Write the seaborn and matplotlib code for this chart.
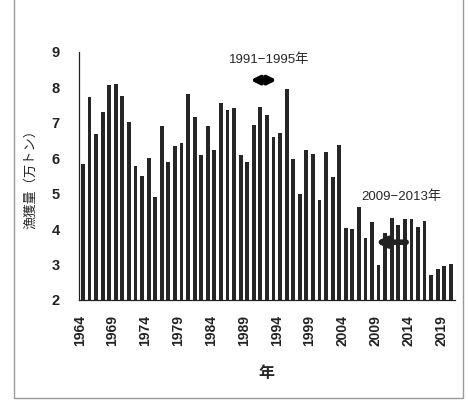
import matplotlib
matplotlib.use('Agg')
import matplotlib.pyplot as plt
import seaborn as sns
from matplotlib.patches import Rectangle

# 年ごとの漁獲量（万トン）
years = list(range(1964, 2021))
catch = [
    5.84, 7.72, 6.69, 7.30, 8.06, 8.08, 7.76, 7.01, 5.77, 5.51,
    6.01, 4.91, 6.92, 5.89, 6.33, 6.44, 7.81, 7.16, 6.10, 6.91,
    6.22, 7.55, 7.36, 7.42, 6.10, 5.89, 6.93, 7.44, 7.21, 6.59,
    6.72, 7.94, 5.98, 4.98, 6.22, 6.13, 4.81, 6.16, 5.46, 6.38,
    4.02, 3.99, 4.62, 3.76, 4.19, 2.99, 3.90, 4.32, 4.11, 4.27,
    4.29, 4.07, 4.22, 2.70, 2.87, 2.96, 3.02,
]
tick_years = [1964, 1969, 1974, 1979, 1984, 1989, 1994, 1999, 2004, 2009, 2014, 2019]

sns.set_theme(style='white')
plt.rcParams['font.family'] = ['Liberation Sans', 'Noto Sans CJK JP', 'DejaVu Sans']

fig = plt.figure(figsize=(4.68, 4.01), dpi=100)
ax = fig.add_axes([0.1688, 0.2519, 0.803, 0.619])

sns.barplot(x=[str(y) for y in years], y=catch, color='#262626', width=0.58,
            saturation=1, linewidth=0, ax=ax)

ax.set_xlim(-0.6, len(years) - 0.4)
ax.set_ylim(2, 9)
ax.set_yticks(range(2, 10))
ax.set_yticklabels([str(v) for v in range(2, 10)], fontsize=10.5, fontweight='bold')

pos = [years.index(y) - 0.5 for y in tick_years]
ax.set_xticks(pos)
ax.set_xticklabels([str(y) for y in tick_years], rotation=90, fontsize=10,
                   fontweight='bold')

ax.tick_params(axis='y', direction='in', length=4, width=0.8, pad=14, colors='#222222')
ax.tick_params(axis='x', direction='out', length=3, width=0.8, pad=8, colors='#222222')
for s in ['top', 'right']:
    ax.spines[s].set_visible(False)
for s in ['left', 'bottom']:
    ax.spines[s].set_color('#222222')
    ax.spines[s].set_linewidth(0.9)

ax.set_xlabel('年', fontsize=11.5, fontweight='bold', labelpad=14)
ax.set_ylabel('漁獲量（万トン）', fontsize=9.5, labelpad=10)

# 注記
ax.annotate('', xy=(25.5, 8.2), xytext=(29.5, 8.2),
            arrowprops=dict(arrowstyle='<|-|>', lw=3, color='black', mutation_scale=12,
                            shrinkA=0, shrinkB=0))
ax.text(28.3, 8.77, '1991−1995年', ha='center', va='center', fontsize=9.5)

ax.annotate('', xy=(44.5, 3.63), xytext=(49.2, 3.63),
            arrowprops=dict(arrowstyle='-|>', lw=4, color='#222222', mutation_scale=14,
                            shrinkA=0, shrinkB=0))
ax.text(48.4, 4.92, '2009−2013年', ha='center', va='center', fontsize=9.5)

# 枠線
fig.patches.append(Rectangle((14 / 468, 1 - 398 / 401), 449 / 468, 1.2,
                             transform=fig.transFigure, fill=False,
                             edgecolor='#999999', linewidth=1))

plt.savefig('out.png', dpi=100)
plt.close()
